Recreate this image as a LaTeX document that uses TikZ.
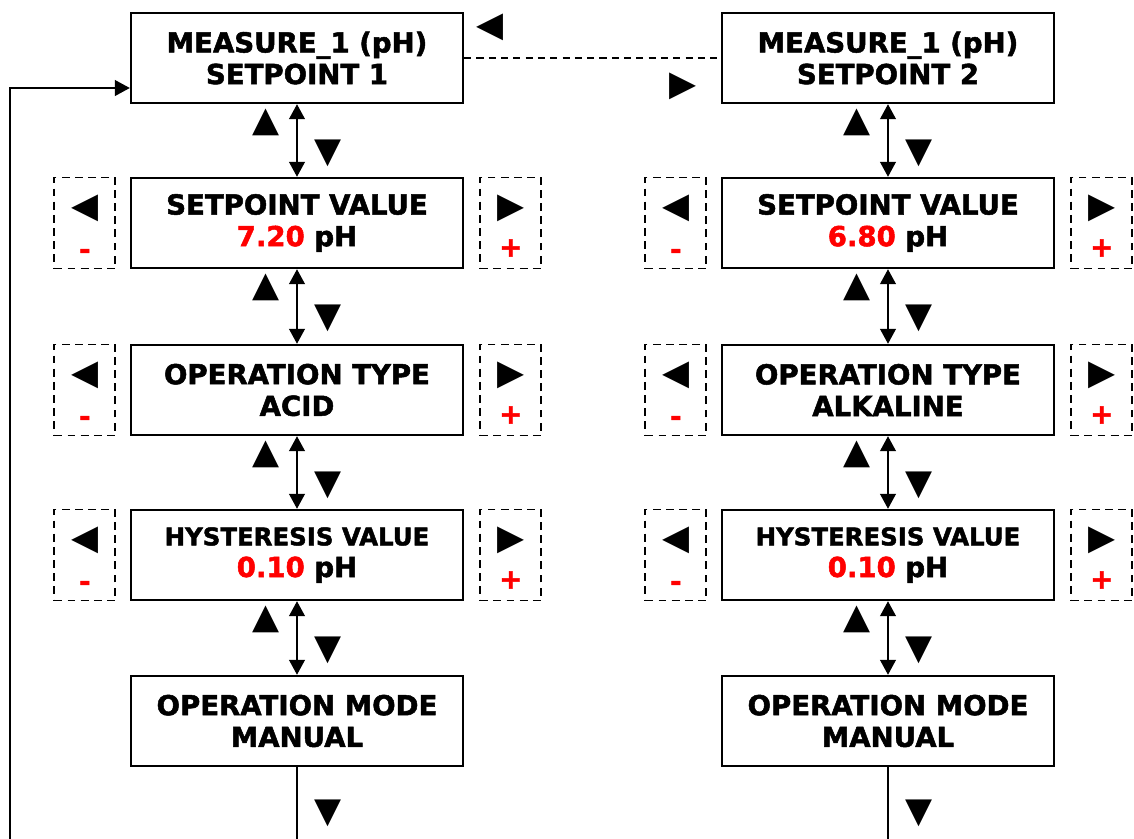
\documentclass[tikz,border=0pt]{standalone}
\usepackage{fontspec}
\setmainfont{DejaVu Sans}[BoldFeatures={FakeBold=1.8}]
\usetikzlibrary{positioning, arrows.meta, calc}
\definecolor{val}{RGB}{255, 0, 0}

\newcommand{\menufont}{\fontsize{15.7}{18}\selectfont\bfseries}
\newcommand{\hysfont}{\fontsize{13.9}{18}\selectfont\bfseries}
\newcommand{\trifont}{\fontsize{20}{20}\selectfont}

\tikzset{
    menubox/.style={draw, line width=1.4pt, minimum width=6.64cm,
        minimum height=1.8cm, align=center, font=\menufont, inner sep=0pt},
    keybox/.style={draw, dashed, dash pattern=on 4.5pt off 3pt,
        line width=1.1pt, minimum width=1.22cm, minimum height=1.82cm},
    tri/.style={font=\trifont, inner sep=0pt},
    sign/.style={font=\menufont, text=val, inner sep=0pt},
    vlink/.style={<->, line width=0.9pt},
}

\begin{document}
\begin{tikzpicture}[
    x=0.02cm, y=-0.02cm,
    >={Triangle[length=8.5pt, width=9pt]},
]

\useasboundingbox (0,0) rectangle (1134,839);

% --- Top menus ---
\node[menubox] (L1) at (297,58) {MEASURE\_1 (pH)\\SETPOINT 1};
\node[menubox] (R1) at (888,58) {MEASURE\_1 (pH)\\SETPOINT 2};

% --- Rows with -/+ keys ---
\foreach \r/\y/\txtL/\txtR in {
    2/223/{SETPOINT VALUE\\{\color{val}7.20} pH}/{SETPOINT VALUE\\{\color{val}6.80} pH},
    3/390/{OPERATION TYPE\\ACID}/{OPERATION TYPE\\ALKALINE},
    4/555/{{\hysfont HYSTERESIS VALUE}\\{\color{val}0.10} pH}/{{\hysfont HYSTERESIS VALUE}\\{\color{val}0.10} pH}} {
    \node[menubox] (L\r) at (297,\y) {\txtL};
    \node[menubox] (R\r) at (888,\y) {\txtR};
    \foreach \c in {L, R} {
        \node[keybox, left=0.27cm of \c\r] (\c\r minus) {};
        \node[tri] (\c\r left) at ([yshift=0.3cm]\c\r minus.center) {◀};
        \node[sign] (\c\r minus sign) at ([yshift=-0.62cm]\c\r minus.center) {-};
        \node[keybox, right=0.3cm of \c\r] (\c\r plus) {};
        \node[tri] (\c\r right) at ([yshift=0.3cm]\c\r plus.center) {▶};
        \node[sign] (\c\r plus sign) at ([yshift=-0.5cm]\c\r plus.center) {+};
    }
}

% --- Bottom menus ---
\node[menubox] (L5) at (297,721) {OPERATION MODE\\MANUAL};
\node[menubox] (R5) at (888,721) {OPERATION MODE\\MANUAL};

% --- Up/down links ---
\foreach \c in {L, R} {
    \foreach \a/\b in {1/2, 2/3, 3/4, 4/5} {
        \draw[vlink] (\c\a) -- (\c\b);
        \node[tri] (\c\a up) at ($(\c\a.south)+(-31,18)$) {▲};
        \node[tri] (\c\a down) at ($(\c\a.south)+(31,49)$) {▼};
    }
    \coordinate (\c end) at ($(\c5.south)+(0,73)$);
    \draw[line width=0.9pt] (\c5) -- (\c end);
    \node[tri] (\c5 down) at ($(\c5.south)+(31,46)$) {▼};
}

% --- Left/right between setpoints ---
\draw[line width=0.9pt, dash pattern=on 4pt off 3pt] (L1) -- (R1);
\node[tri] (prev) at (490,27) {◀};
\node[tri] (next) at (683,86) {▶};

% --- Return loop ---
\coordinate (loopbot) at (10,839);
\coordinate (loopcorner) at (10,88);
\draw[->, line width=0.9pt] (loopbot) -- (loopcorner) -- (loopcorner -| L1.west);

\end{tikzpicture}
\end{document}
